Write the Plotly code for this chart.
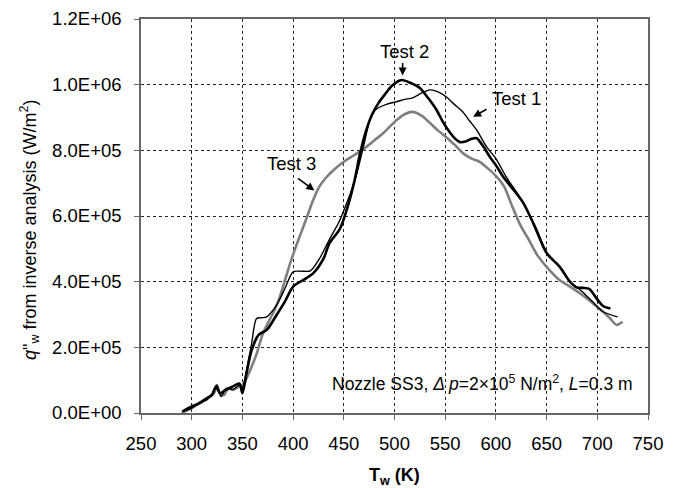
import plotly.graph_objects as go

# ---- data ----
test1_T = [291, 300, 308, 315, 320, 324.5, 329, 334, 341, 347, 350, 354, 359, 364, 369, 374, 384, 392, 400, 407,
           417, 426, 436, 445, 453, 462, 470, 476, 482, 492, 502, 510, 518, 527, 535, 543, 551, 559, 567, 574,
           581, 591, 600, 610, 625, 640, 650, 663, 673, 685, 695, 705, 720]
test1_q = [5e3, 15e3, 33e3, 40e3, 58e3, 85e3, 50e3, 75e3, 72e3, 85e3, 75e3, 130e3, 210e3, 288e3, 290e3, 293e3,
           330e3, 380e3, 430e3, 432e3, 433e3, 470e3, 530e3, 580e3, 640e3, 720e3, 820e3, 895e3, 925e3, 940e3,
           948e3, 955e3, 960e3, 975e3, 984e3, 978e3, 963e3, 940e3, 918e3, 890e3, 862e3, 810e3, 775e3, 720e3,
           650e3, 560e3, 490e3, 445e3, 400e3, 370e3, 340e3, 310e3, 293e3]

test2_T = [291, 300, 308, 315, 320, 324, 328, 333, 340, 347, 350, 354, 359, 366, 374, 384, 392, 400, 410, 420,
           430, 436, 446, 453, 460, 466, 472, 478, 484, 490, 498, 507, 516, 525, 533, 541.5, 548, 555, 560, 564.5,
           570, 576, 581, 588, 594, 601, 607, 616, 627, 638, 650, 663, 673, 680, 686, 692, 699, 706, 713]
test2_q = [5e3, 20e3, 30e3, 45e3, 55e3, 80e3, 60e3, 70e3, 80e3, 90e3, 60e3, 120e3, 190e3, 238e3, 253e3, 300e3,
           340e3, 385e3, 405e3, 426e3, 470e3, 518e3, 560e3, 620e3, 700e3, 790e3, 860e3, 910e3, 943e3, 968e3,
           998e3, 1014e3, 1005e3, 990e3, 960e3, 923e3, 885e3, 853e3, 835e3, 825e3, 827e3, 835e3, 837e3, 810e3,
           780e3, 750e3, 720e3, 685e3, 640e3, 570e3, 487e3, 445e3, 400e3, 382e3, 381e3, 378e3, 350e3, 325e3,
           318e3]

test3_T = [290, 297, 305, 312, 318, 322, 325, 328, 332, 336, 341, 346, 350, 354, 359, 364, 370, 377, 382, 387,
           392, 397, 402, 408, 414, 420, 426, 432, 440, 450, 460, 470, 480, 489, 502, 510, 518, 527, 535, 543,
           551, 560, 568, 576, 584, 592, 599, 608, 616, 624, 632, 641, 650, 663, 673, 685, 696, 705, 712, 719,
           722, 725]
test3_q = [0, 10e3, 25e3, 40e3, 50e3, 60e3, 85e3, 60e3, 55e3, 75e3, 70e3, 80e3, 85e3, 105e3, 140e3, 180e3,
           240e3, 285e3, 315e3, 355e3, 405e3, 455e3, 500e3, 550e3, 600e3, 650e3, 690e3, 715e3, 740e3, 765e3,
           785e3, 805e3, 830e3, 853e3, 892e3, 910e3, 917e3, 905e3, 883e3, 860e3, 840e3, 815e3, 790e3, 775e3,
           765e3, 745e3, 725e3, 690e3, 630e3, 573e3, 530e3, 480e3, 445e3, 404e3, 385e3, 360e3, 333e3, 310e3,
           290e3, 268e3, 272e3, 278e3]

x_ticks = [250, 300, 350, 400, 450, 500, 550, 600, 650, 700, 750]
y_tick_vals = [0, 2e5, 4e5, 6e5, 8e5, 1e6, 1.2e6]
y_tick_labels = ["0.0E+00", "2.0E+05", "4.0E+05", "6.0E+05", "8.0E+05", "1.0E+06", "1.2E+06"]

FONT = "Liberation Sans, Arial, sans-serif"

fig = go.Figure()
fig.add_trace(go.Scatter(x=test3_T, y=test3_q, mode="lines", name="Test 3",
                         line=dict(color="#7f7f7f", width=2.6, shape="spline", smoothing=0.8)))
fig.add_trace(go.Scatter(x=test1_T, y=test1_q, mode="lines", name="Test 1",
                         line=dict(color="#000000", width=1.4, shape="spline", smoothing=0.8)))
fig.add_trace(go.Scatter(x=test2_T, y=test2_q, mode="lines", name="Test 2",
                         line=dict(color="#000000", width=2.6, shape="spline", smoothing=0.8)))

axis_common = dict(
    showline=True, linecolor="#666666", linewidth=1.5, mirror=True,
    ticks="outside", ticklen=5, tickcolor="#666666", tickwidth=1.2,
    showgrid=True, gridcolor="#222222", gridwidth=1, griddash="dot",
    zeroline=False, automargin=False,
    tickfont=dict(family=FONT, size=18.5, color="#000000"),
)

fig.update_xaxes(range=[250, 750], tickvals=x_ticks, ticktext=[str(v) for v in x_ticks],
                 ticklabelstandoff=8, **axis_common)
fig.update_yaxes(range=[0, 1.2e6], tickvals=y_tick_vals, ticktext=y_tick_labels,
                 ticklabelstandoff=9, **axis_common)

ann = []
# axis titles
ann.append(dict(text="<b>T<sub>w</sub> (K)</b>", xref="paper", yref="paper", x=0.5, y=0,
                yanchor="middle", xanchor="center", yshift=-63, showarrow=False,
                font=dict(family=FONT, size=18, color="#000")))
ann.append(dict(text="<i>q</i>\"<sub>w</sub> from inverse analysis (W/m<sup>2</sup>)", xref="paper", yref="paper",
                x=0, y=0.5, xanchor="center", yanchor="middle", xshift=-112, yshift=-14, textangle=-90,
                showarrow=False, font=dict(family=FONT, size=18, color="#000")))
# test labels
tf = dict(family=FONT, size=18.5, color="#000")
ann.append(dict(text="Test 2", x=509.5, y=1.1e6, showarrow=False, font=tf))
ann.append(dict(text="Test 1", x=620.6, y=0.959e6, showarrow=False, font=tf))
ann.append(dict(text="Test 3", x=398, y=0.76e6, showarrow=False, font=tf))
# arrows
arr = dict(text="", showarrow=True, arrowhead=2, arrowsize=1, arrowwidth=1.6, arrowcolor="#000")
ann.append(dict(x=508, y=1.028e6, ax=0, ay=-14, **arr))
ann.append(dict(x=577.5, y=0.902e6, ax=15, ay=-8.5, **arr))
ann.append(dict(x=421, y=0.678e6, ax=-18, ay=-13, **arr))
# nozzle text
ann.append(dict(text="Nozzle SS3, <i>Δ p</i>=2×10<sup>5</sup> N/m<sup>2</sup>, <i>L</i>=0.3 m",
                xref="paper", yref="paper", x=0.974, y=0.076, xanchor="right", yanchor="middle",
                showarrow=False, font=dict(family=FONT, size=17.5, color="#000")))

# the page body adds an 8px offset, so the figure is sized to land where the reference's chart sits
fig.update_layout(
    width=670, height=480,
    margin=dict(l=133, r=30, t=11, b=75),
    paper_bgcolor="white", plot_bgcolor="white",
    showlegend=False,
    annotations=ann,
)

fig.write_html("out.html")
